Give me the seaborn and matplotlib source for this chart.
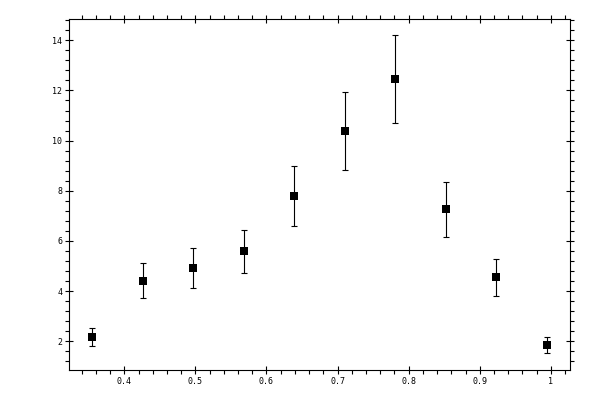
import numpy as np
import pandas as pd
import matplotlib
matplotlib.use('Agg')
import matplotlib.pyplot as plt
import seaborn as sns
from matplotlib.ticker import MultipleLocator

# DATA
x_vals = [0.355, 0.426, 0.497, 0.568, 0.639, 0.710, 0.781, 0.852, 0.923, 0.994]
y_vals = [2.16, 4.42, 4.91, 5.58, 7.78, 10.38, 12.45, 7.26, 4.56, 1.84]
y_err = [0.36, 0.70, 0.80, 0.86, 1.20, 1.54, 1.75, 1.10, 0.74, 0.32]

df = pd.DataFrame({'x': x_vals, 'y': y_vals, 'err': y_err})

sns.set_style('ticks')
plt.rcParams['font.family'] = ['DejaVu Sans Mono', 'DejaVu Sans']

fig = plt.figure(figsize=(6, 4), dpi=100)
ax = fig.add_axes([0.1155, 0.075, 0.835, 0.877])

# ERROR BARS + MARKERS
ax.errorbar(df['x'], df['y'], yerr=df['err'], fmt='none',
            ecolor='black', elinewidth=0.8, capsize=2.2, capthick=0.8, zorder=2)
sns.scatterplot(data=df, x='x', y='y', marker='s', s=36, color='black',
                edgecolor='black', linewidth=0, ax=ax, zorder=3)

ax.set_xlim(0.3226, 1.0274)
ax.set_ylim(0.856, 14.84)
ax.set_xlabel('')
ax.set_ylabel('')

ax.xaxis.set_major_locator(MultipleLocator(0.1))
ax.xaxis.set_minor_locator(MultipleLocator(0.02))
ax.yaxis.set_major_locator(MultipleLocator(2))
ax.yaxis.set_minor_locator(MultipleLocator(0.4))
ax.xaxis.set_major_formatter(plt.FuncFormatter(lambda v, p: f'{v:g}'))
ax.yaxis.set_major_formatter(plt.FuncFormatter(lambda v, p: f'{v:g}'))

for side in ['top', 'bottom', 'left', 'right']:
    ax.spines[side].set_visible(True)
    ax.spines[side].set_linewidth(0.8)
    ax.spines[side].set_color('black')

ax.tick_params(which='major', direction='inout', length=6, width=0.8,
               top=True, right=True, labelsize=6, pad=2, colors='black')
ax.tick_params(which='minor', direction='out', length=3, width=0.8,
               top=True, right=True, colors='black')

fig.savefig('out.png', dpi=100)
